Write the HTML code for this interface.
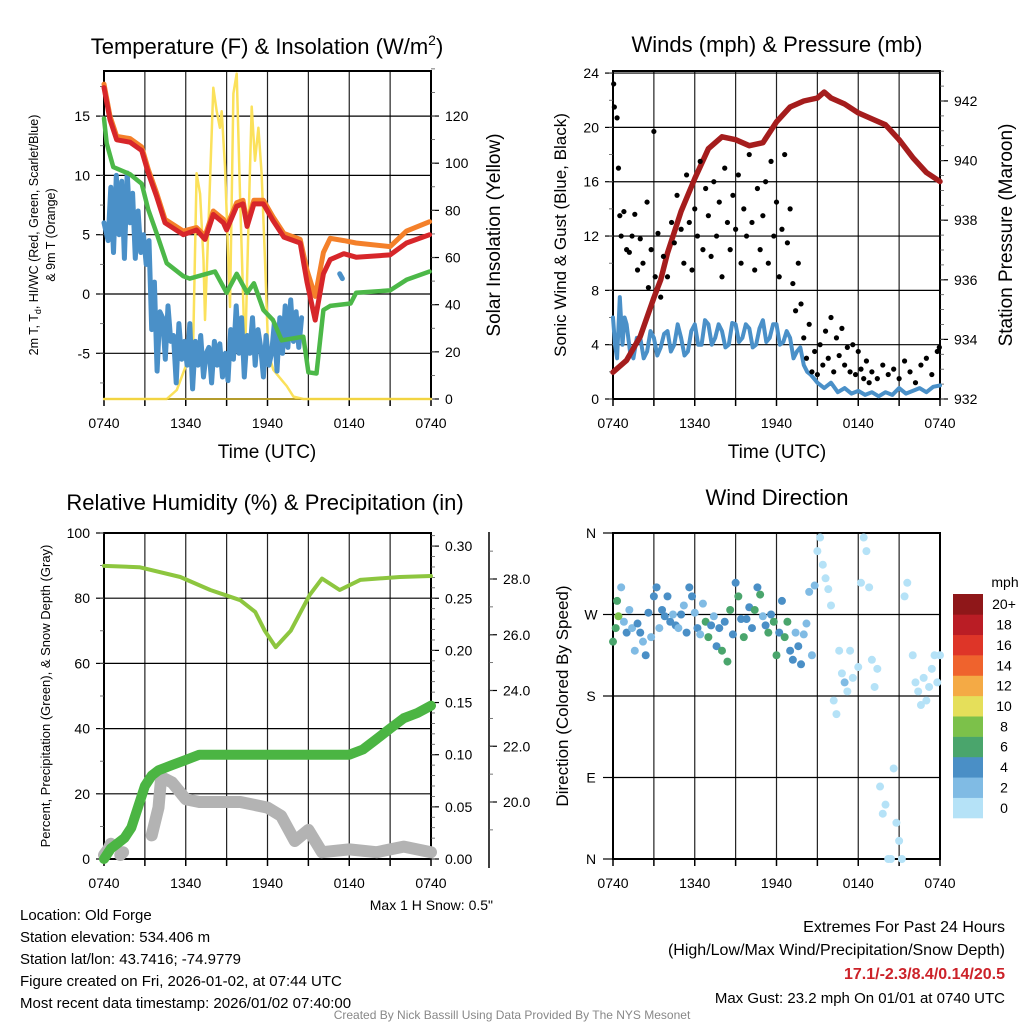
<!DOCTYPE html>
<html><head><meta charset="utf-8"><style>
body{margin:0;background:#fff;}
svg{display:block;font-family:"Liberation Sans",sans-serif;}
</style></head><body>
<svg id="c" width="1024" height="1024" viewBox="0 0 1024 1024" xmlns="http://www.w3.org/2000/svg"></svg>
<script>
// ===== DATA =====
const xTickLabels = ["0740","1340","1940","0140","0740"];
// Panel 1 (hours since 0740, value)
const tempT = [0,0.44,0.93,1.91,2.77,3.25,3.87,4.48,5.82,6.8,7.41,8.02,8.76,9.0,9.74,10.2,10.5,11.0,11.7,12.4,13.2,14.4,14.9,15.5,16.1,16.6,17.6,18.5,21.0,22.2,23.9];
const tempRed = [17.4,14.7,13.0,12.8,12.1,10.2,8.2,6.0,5.0,5.4,4.6,6.7,6.0,5.4,7.4,7.6,5.7,7.6,7.6,6.2,4.8,4.3,1.0,-2.2,1.7,2.9,3.4,3.1,3.3,4.3,5.0];
const tempOrange = [17.7,15.0,13.3,13.1,12.4,10.5,8.5,6.3,5.3,5.6,4.9,7.0,6.3,5.7,7.7,7.9,6.0,7.9,7.9,6.5,5.1,4.6,2.0,-0.2,3.5,4.7,4.5,4.3,4.0,5.3,6.1];
const dewT = [0,0.2,0.68,1.91,2.77,3.25,3.87,4.6,5.82,6.3,7.54,8.15,9.0,9.74,10.5,11.0,11.7,12.4,13.04,14.63,15.0,15.6,16.1,16.6,18.1,18.5,21.0,22.2,23.9];
const dewGreen = [14.8,12.7,10.7,10.1,9.3,7.1,5.1,2.6,1.5,1.3,1.7,1.9,0.1,1.7,0.1,0.9,-1.35,-2.2,-3.9,-3.6,-6.6,-6.7,-1.35,-1.0,-0.8,0.1,0.3,1.2,1.9];
const hiT = [0,0.3,0.5,0.7,0.9,1.1,1.3,1.5,1.7,1.9,2.1,2.3,2.5,2.7,2.9,3.1,3.3,3.5,3.7,3.9,4.1,4.3,4.5,4.7,4.9,5.1,5.3,5.5,5.7,5.9,6.1,6.3,6.5,6.7,6.9,7.1,7.3,7.5,7.7,7.9,8.1,8.3,8.5,8.7,8.9,9.1,9.3,9.5,9.7,9.9,10.1,10.3,10.5,10.7,10.9,11.1,11.3,11.5,11.7,11.9,12.1,12.3,12.5,12.7,12.9,13.1,13.3,13.5,13.7,13.9,14.1,14.3,14.5];
const hiBlue = [6,4.5,9,3.5,10,5,9.5,3,10.2,6,8.5,3,7,3.5,5,2.5,4.5,-3,1,-6.5,-1.5,-2,-5.5,-1,-4,-3.5,-7.5,-2.5,-5.5,-4,-6,-2.5,-8,-4,-6,-3.5,-7,-5,-4.5,-7.5,-4,-6,-4.2,-7,-5,-7.3,-3,-5.5,-1,-5,-2,-7,-3.5,-5,-2,-6,-3,-4.5,-7,-3.5,-6,-5,-2.5,-6.5,-2,-5,-1,-4.5,-0.5,-4,-1.5,-4.5,-2];
const hiBlipT = [17.3,17.5];
const hiBlipV = [1.7,1.3];
const solarT = [0,4.6,5.34,6.07,6.3,6.55,6.8,7.05,7.3,7.41,7.66,8.02,8.27,8.51,8.64,8.88,9.25,9.5,9.74,9.98,10.35,10.6,10.84,11.08,11.33,11.57,11.82,12.06,12.43,13.04,13.41,13.9,14.63,24];
const solarW = [0,0,3.8,15,15.6,23.6,95.7,87,59,33.5,73,132,122,115,122,98.5,39,129.6,138,87,16.5,73,124,101,115,95.7,59,19.4,12.3,8,5.5,1,0,0];
const leftTicks1 = [-5,0,5,10,15];
const rightTicks1 = [0,20,40,60,80,100,120];
// Panel 2
const gustT = [0.05,0.1,0.3,0.4,0.5,0.6,0.8,1.0,1.2,1.4,1.6,1.8,2.0,2.2,2.5,2.6,2.8,3.0,3.1,3.3,3.5,3.7,4.0,4.3,4.5,4.7,5.0,5.2,5.4,5.6,5.8,6.0,6.2,6.4,6.6,6.8,7.0,7.2,7.4,7.6,7.8,8.0,8.2,8.4,8.6,8.8,9.0,9.2,9.4,9.6,9.8,10.0,10.2,10.4,10.6,10.8,11.0,11.2,11.4,11.6,11.8,12.0,12.2,12.4,12.6,12.8,13.0,13.2,13.4,13.6,13.8,14.0,14.2,14.4,14.6,14.8,15.0,15.2,15.4,15.6,15.8,16.0,16.2,16.4,16.6,16.8,17.0,17.2,17.4,17.6,17.8,18.0,18.2,18.4,18.6,18.8,19.0,19.4,19.8,20.2,20.6,21.0,21.4,21.8,22.2,22.6,23.0,23.4,23.8,23.95];
const gustV = [23.2,21.5,20.7,17,13.5,12,13.8,11,10.8,12,13.6,9.5,11.8,10,14.5,8.2,11,19.7,9,12.2,7.5,10.5,9,13,11.5,15,12.5,10,16.5,13,9.5,14,12,17.5,11,15.5,13.5,10.5,16,12,14.5,9,17,13,11,15,12.5,16.5,10,14,12,18,13,9.5,15.5,11,13.5,16,10,17.5,12,14.5,9,12.5,18,11.5,14,8.5,6.5,10,7,4.5,3,5.5,2,3.5,1.8,4,2.5,5,3,6,2,4.5,3.2,5.2,2.5,3.8,2,4,1.8,3.5,2.2,1.5,2.8,1.2,2,1.5,2.5,1.8,2.2,1.5,2.8,2,1.2,2.5,3,1.8,3.5,3.8];
const windT = [0,0.15,0.3,0.5,0.7,0.85,1,1.25,1.5,1.75,2,2.25,2.5,2.75,3,3.25,3.5,3.75,4,4.25,4.5,4.75,5,5.25,5.5,5.75,6,6.25,6.5,6.75,7,7.25,7.5,7.75,8,8.25,8.5,8.75,9,9.25,9.5,9.75,10,10.25,10.5,10.75,11,11.25,11.5,11.75,12,12.25,12.5,12.75,13,13.25,13.5,13.75,14,14.25,14.5,14.75,15,15.5,16,16.5,17,17.5,18,18.5,19,19.5,20,20.5,21,21.5,22,22.5,23,23.5,24];
const windV = [6,4,3,7.5,4,6,5.5,3.5,3,4.5,4.5,3,3.5,5,4.5,3.2,3.8,4.8,5,3.5,4,5.5,4.5,3.2,3.5,5,5.5,4,4,5.8,5.5,4,4.5,5.5,5,3.8,4,5.6,5.5,4.2,4.5,5.5,5.2,3.8,4,5.2,5.8,4.2,4.5,5.5,5.5,4,4.2,5,4.5,3,3.5,3.8,2.5,2,1.8,1.5,1.2,0.8,1.2,0.5,0.8,0.4,0.6,0.3,0.5,0.2,0.5,0.3,0.8,0.4,0.6,0.8,0.5,0.9,1];
const presT = [0,1,2,3,3.5,4,5,6,6.5,7,8,9,10,11,12,13,14,15,15.5,16,17,18,19,20,21,22,23,24];
const presV = [932.9,933.3,934.1,935.4,936,936.9,938.3,939.4,939.9,940.4,940.8,940.7,940.5,940.6,941.3,941.8,942.0,942.1,942.3,942.1,941.9,941.6,941.4,941.2,940.7,940.1,939.6,939.3];
const leftTicks2 = [0,4,8,12,16,20,24];
const rightTicks2 = [932,934,936,938,940,942];
// Panel 3
const rhT = [0,2.6,5.6,7.8,10,11.1,11.8,12.6,13.7,15.1,16,17.3,18.8,21.7,24];
const rhV = [89.9,89.5,86.5,82.5,79.4,75.8,70,65,70,81,86,82.5,85.6,86.5,86.8];
const precipT = [0,0.5,1,1.5,2,2.5,3,3.5,4,5,6,7,18,19,20,21,22,23,24];
const precipV = [0,0.01,0.015,0.02,0.03,0.05,0.07,0.08,0.085,0.09,0.095,0.1,0.1,0.105,0.115,0.125,0.135,0.14,0.147];
const snowT = [0,0.3,0.5,null,1.2,1.4,null,3.5,4.0,4.2,5,6,7,10,11,12,13,14,15,16,18,20,22,24];
const snowV = [18.1,18.3,18.5,null,18.1,18.2,null,18.8,19.8,20.9,20.7,20.1,20.0,20.0,19.9,19.8,19.5,18.6,19.0,18.2,18.3,18.2,18.4,18.2];
const leftTicks3 = [0,20,40,60,80,100];
const precipTicks = ["0.00","0.05","0.10","0.15","0.20","0.25","0.30"];
const snowTicks = ["20.0","22.0","24.0","26.0","28.0"];
// Panel 4
const dirT = [0,0.2,0.3,0.4,0.6,0.8,1.0,1.2,1.4,1.6,1.8,2.0,2.2,2.4,2.6,2.8,3.0,3.2,3.4,3.6,3.8,4.0,4.2,4.4,4.6,4.8,5.0,5.2,5.4,5.6,5.8,6.0,6.2,6.4,6.6,6.8,7.0,7.2,7.4,7.6,7.8,8.0,8.2,8.4,8.6,8.8,9.0,9.2,9.4,9.6,9.8,10.0,10.2,10.4,10.6,10.8,11.0,11.2,11.4,11.6,11.8,12.0,12.2,12.4,12.6,12.8,13.0,13.2,13.4,13.6,13.8,14.0,14.2,14.4,14.6,14.8,15.0,15.2,15.4,15.6,15.8,16.0,16.2,16.4,16.6,16.8,17.0,17.2,17.4,17.6,18.0,18.2,18.4,18.6,18.8,19.0,19.2,19.4,19.6,19.8,20.0,20.2,20.4,20.6,20.8,21.0,21.2,21.4,21.6,22.0,22.2,22.4,22.6,22.8,23.0,23.2,23.4,23.6,23.8,24];
const dirDeg = [240,255,285,268,300,262,250,275,255,230,260,250,240,225,272,245,290,300,255,275,268,290,262,270,258,255,270,280,250,300,290,272,255,248,282,262,245,258,268,235,255,230,262,218,275,248,305,290,265,245,265,278,255,275,300,292,268,258,250,270,262,225,250,285,245,262,230,220,250,235,215,248,260,295,225,302,340,355,325,310,298,280,175,160,230,205,195,185,230,200,212,305,355,340,300,220,190,210,80,50,60,0,0,100,40,20,0,290,305,225,195,185,170,200,175,190,210,225,195,225];
const dirSpd = [7.5,6.5,7,8,3,3,4,2.5,2,2.5,4,4.5,2,4.5,4.5,3,4.5,4,2.5,5,5.5,4,5,3,4.5,2,4,2.5,4.5,4.5,4,2.5,5,3,2.5,6,6,5.5,3.5,4,4.5,6,5,6.5,6.5,4,4,6,5,6.5,4,5.5,4,6,4.5,6,3,5,6.5,4,6,6.5,5,4,6,6.5,4,5,3,5.5,4,3.5,2,2.5,2,3,1,1,0.5,1,0.8,1,1,0.5,0.5,1,3,0.5,0.5,1,1,0.5,1,0.5,1,0.5,1,1,0.5,0.5,1,0.5,0.5,1,0.5,0.5,0.5,1,0.5,1,0.5,1,0.5,1,0.5,1,1,0.5,1,0.5];
const dirLabels = ["N","E","S","W","N"];
const legendLabels = ["0","2","4","6","8","10","12","14","16","18","20+"];
const legendColors = ["#b5e2f7","#80bbe4","#4a8fc6","#4aa56c","#7cc14a","#e5df5a","#f4aa45","#ef632d","#de3528","#ba1d25","#8f1719"];

// ===== HELPERS =====
const svg = document.getElementById('c');
const NS = "http://www.w3.org/2000/svg";
function mk(tag, attrs, parent){const e=document.createElementNS(NS,tag);for(const k in attrs)e.setAttribute(k,attrs[k]);(parent||svg).appendChild(e);return e;}
function txt(x,y,s,size,anchor,parent,extra){const e=mk('text',Object.assign({x:x,y:y,'font-size':size,'text-anchor':anchor||'middle',fill:'#000'},extra||{}),parent);e.textContent=s;return e;}
function poly(ts,vs,xf,yf,color,w,parent){let d="",pen=false;for(let i=0;i<ts.length;i++){if(ts[i]===null||vs[i]===null){pen=false;continue;}d+=(pen?"L":"M")+xf(ts[i]).toFixed(1)+" "+yf(vs[i]).toFixed(1)+" ";pen=true;}return mk('path',{d:d,fill:'none',stroke:color,'stroke-width':w,'stroke-linejoin':'round','stroke-linecap':'round'},parent);}

function frame(x0,x1,y0,y1,hLines,name){
  const g=mk('g',{});
  
  
  for(let h=3;h<24;h+=3){const x=x0+(x1-x0)*h/24;mk('line',{x1:x,y1:y0,x2:x,y2:y1,stroke:'#222','stroke-width':1.2},g);}
  hLines.forEach(y=>mk('line',{x1:x0,y1:y,x2:x1,y2:y,stroke:'#000','stroke-width':1.2},g));
  mk('rect',{x:x0,y:y0,width:x1-x0,height:y1-y0,fill:'none',stroke:'#000','stroke-width':2},g);
  const ax=mk('g',{});
  
  
  for(let h=0;h<=24;h+=3){const x=x0+(x1-x0)*h/24;mk('line',{x1:x,y1:y1,x2:x,y2:y1+7,stroke:'#000','stroke-width':1.5},ax);}
  xTickLabels.forEach((l,i)=>txt(x0+(x1-x0)*i/4,y1+29,l,14,'middle',ax));
  return g;
}
function yTicksLeft(x,vals,yf,fmt,minorStep,lo,hi,name){
  const g=mk('g',{});
  
  
  vals.forEach(v=>{const y=yf(v);mk('line',{x1:x-8,y1:y,x2:x,y2:y,stroke:'#000','stroke-width':1.2},g);txt(x-14,y+5,fmt(v),14,'end',g);});
  if(minorStep)for(let v=lo;v<=hi+1e-9;v+=minorStep){const y=yf(v);mk('line',{x1:x-4,y1:y,x2:x,y2:y,stroke:'#555','stroke-width':0.8},g);}
}
function yTicksRight(x,vals,yf,labels,minorStep,lo,hi,name){
  const g=mk('g',{});
  
  
  vals.forEach((v,i)=>{const y=yf(v);mk('line',{x1:x,y1:y,x2:x+8,y2:y,stroke:'#000','stroke-width':1.2},g);txt(x+14,y+5,labels[i],14,'start',g);});
  if(minorStep)for(let v=lo;v<=hi+1e-9;v+=minorStep){const y=yf(v);mk('line',{x1:x,y1:y,x2:x+4,y2:y,stroke:'#555','stroke-width':0.8},g);}
}
function rotLabel(x,y,s,size,name){const e=txt(x,y,s,size,'middle',svg,{transform:`rotate(-90 ${x} ${y})`});return e;}

// ===== PANEL 1 =====
{
const x0=104,x1=431,y0=71,y1=399;
const X=t=>x0+(x1-x0)*t/24, YL=v=>294-v*11.86, YR=w=>399-w*2.358;
frame(x0,x1,y0,y1,leftTicks1.map(YL),'temp-panel');
yTicksLeft(x0,leftTicks1,YL,v=>String(v),2.5,-7.5,17.5,'temp-left-axis');
yTicksRight(x1,rightTicks1,YR,rightTicks1.map(String),10,0,140,'insolation-right-axis');
const s1=poly(solarT,solarW,X,YR,'#fbe15b',2.5);


const s2=poly(hiT,hiBlue,X,YL,'#4a90c8',5);


const s2b=poly(hiBlipT,hiBlipV,X,YL,'#4a90c8',5);


const s3=poly(dewT,dewGreen,X,YL,'#4cb848',4.5);


const s4=poly(tempT,tempOrange,X,YL,'#f4802a',5);


const s5=poly(tempT,tempRed,X,YL,'#d7262a',5);


const bl=mk('line',{x1:x0,y1:y1,x2:x1,y2:y1,stroke:'#f0cf3a','stroke-width':1.5});


const t=mk('text',{x:267,y:54,'font-size':22,'text-anchor':'middle'});
t.innerHTML='Temperature (F) &amp; Insolation (W/m<tspan font-size="14" dy="-9">2</tspan><tspan dy="9">)</tspan>';


const xl=txt(267,458,'Time (UTC)',19);


const yl=mk('text',{x:38,y:235,'font-size':12.5,'text-anchor':'middle',transform:'rotate(-90 38 235)'});
yl.innerHTML='2m T, T<tspan font-size="9" dy="3">d</tspan><tspan dy="-3">, HI/WC (Red, Green, Scarlet/Blue)</tspan>';


rotLabel(55,235,'& 9m T (Orange)',12.5,'temp-y-axis-title-line2');
rotLabel(500,235,'Solar Insolation (Yellow)',19,'insolation-y-axis-title');
}

// ===== PANEL 2 =====
{
const x0=613,x1=940,y0=71,y1=399;
const X=t=>x0+(x1-x0)*t/24, YL=v=>399-v*13.58, YR=p=>399-(p-932)*29.8;
frame(x0,x1,y0,y1,leftTicks2.map(YL).filter(y=>y>y0+2&&y<y1-2),'winds-panel');
yTicksLeft(x0,leftTicks2,YL,v=>String(v),2,0,24,'wind-left-axis');
yTicksRight(x1,rightTicks2,YR,rightTicks2.map(String),0.5,932,943,'pressure-right-axis');
const w=poly(windT,windV,X,YL,'#4a90c8',4);


const pr=poly(presT,presV,X,YR,'#a51d1d',5.5);


const gg=mk('g',{});


gustT.forEach((t,i)=>{const c=mk('circle',{cx:X(t),cy:YL(gustV[i]),r:2.6,fill:'#000'},gg);

});
const t=txt(777,52,'Winds (mph) & Pressure (mb)',22);


const xl=txt(777,458,'Time (UTC)',19);


rotLabel(566,235,'Sonic Wind & Gust (Blue, Black)',17,'wind-y-axis-title');
rotLabel(1012,235,'Station Pressure (Maroon)',19,'pressure-y-axis-title');
}

// ===== PANEL 3 =====
{
const x0=104,x1=431,y0=533,y1=859;
const X=t=>x0+(x1-x0)*t/24, YL=v=>859-v*3.26, YP=p=>859-p*1043, YS=d=>802-(d-20)*27.875;
frame(x0,x1,y0,y1,leftTicks3.map(YL).filter(y=>y>y0+2&&y<y1-2),'humidity-panel');
yTicksLeft(x0,leftTicks3,YL,v=>String(v),10,0,100,'humidity-left-axis');
yTicksRight(x1,precipTicks.map(Number),YP,precipTicks,0.01,0,0.31,'precip-right-axis');
const al=mk('line',{x1:489,y1:532,x2:489,y2:868,stroke:'#000','stroke-width':1.5});


yTicksRight(489,snowTicks.map(Number),YS,snowTicks,1,19,29,'snow-depth-axis');
const sn=poly(snowT,snowV,X,YS,'#b3b3b3',12);


const pc=poly(precipT,precipV,X,YP,'#4bb543',10);


const rh=poly(rhT,rhV,X,YL,'#8dc63f',4);


const t=txt(265,510,'Relative Humidity (%) & Precipitation (in)',22);


rotLabel(50,696,'Percent, Precipitation (Green), & Snow Depth (Gray)',13,'humidity-y-axis-title');
const ms=txt(493,910,'Max 1 H Snow: 0.5"',14,'end');


}

// ===== PANEL 4 =====
{
const x0=613,x1=940,y0=533,y1=859;
const X=t=>x0+(x1-x0)*t/24, Y=d=>859-d*326/360;
const lines=[90,180,270].map(Y);
frame(x0,x1,y0,y1,lines,'direction-panel');
const ag=mk('g',{});


dirLabels.forEach((l,i)=>{const y=Y(i*90);mk('line',{x1:x0-10,y1:y,x2:x0,y2:y,stroke:'#000','stroke-width':1.2},ag);txt(591,y+5,l,14,'middle',ag);});
const pg=mk('g',{});


dirT.forEach((t,i)=>{const bin=Math.min(10,Math.floor(dirSpd[i]/2));const c=mk('circle',{cx:X(t),cy:Y(dirDeg[i]),r:4,fill:legendColors[bin]},pg);

});
const lg=mk('g',{});


const bh=224/11;
legendColors.forEach((c,i)=>{const y=818-(i+1)*bh;mk('rect',{x:953,y:y,width:30,height:bh+0.3,fill:c},lg);txt(1004,y+bh/2+5,legendLabels[i],14,'middle',lg);});
txt(1005,587,'mph',14,'middle',lg);
const t=txt(777,505,'Wind Direction',22);


rotLabel(568,696,'Direction (Colored By Speed)',17,'direction-y-axis-title');
}

// ===== FOOTER =====
{
const info=["Location: Old Forge","Station elevation: 534.406 m","Station lat/lon: 43.7416; -74.9779","Figure created on Fri, 2026-01-02, at 07:44 UTC","Most recent data timestamp: 2026/01/02 07:40:00"];
const g=mk('g',{});


info.forEach((s,i)=>txt(20,920+i*22,s,15,'start',g));
const r=mk('g',{});


txt(1005,932,'Extremes For Past 24 Hours',16,'end',r);
txt(1005,955,'(High/Low/Max Wind/Precipitation/Snow Depth)',16,'end',r);
txt(1005,979,'17.1/-2.3/8.4/0.14/20.5',16,'end',r,{fill:'#cc2229','font-weight':'bold'});
txt(1005,1003,'Max Gust: 23.2 mph On 01/01 at 0740 UTC',15,'end',r);
const cr=txt(512,1019,'Created By Nick Bassill Using Data Provided By The NYS Mesonet',12,'middle');
cr.setAttribute('fill','#888');


}
</script>
</body></html>
